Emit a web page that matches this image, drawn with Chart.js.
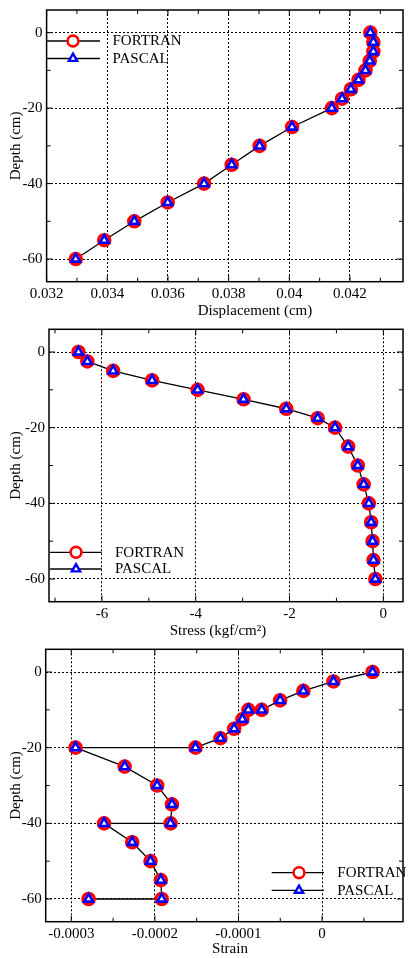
<!DOCTYPE html>
<html>
<head>
<meta charset="utf-8">
<script src="https://cdn.jsdelivr.net/npm/chart.js@4.4.1/dist/chart.umd.min.js"></script>
<style>
  html, body { margin: 0; padding: 0; background: #fff; overflow: hidden; width: 408px; height: 958px; }
  canvas { position: absolute; left: 0; }
</style>
</head>
<body>
<canvas id="c1" width="412" height="320" style="top:0px"></canvas>
<canvas id="c2" width="412" height="320" style="top:320px"></canvas>
<canvas id="c3" width="412" height="318" style="top:640px"></canvas>
<script>
// depth of the nodes (cm)
const depth = [0, -2.5, -5, -7.5, -10, -12.5, -15, -17.5, -20, -25, -30, -35, -40, -45, -50, -55, -60];

const dispFortran = [0.04267, 0.04277, 0.04277, 0.04265, 0.04251, 0.04228, 0.04203, 0.04174, 0.04140,
  0.04009, 0.03902, 0.03810, 0.03719, 0.03599, 0.03489, 0.03390, 0.03296];
const dispPascal = [0.04267, 0.04277, 0.04277, 0.04265, 0.04251, 0.04228, 0.04203, 0.04174, 0.04140,
  0.04009, 0.03902, 0.03810, 0.03719, 0.03599, 0.03489, 0.03390, 0.03296];

const stressFortran = [-6.50, -6.31, -5.76, -4.93, -3.96, -2.98, -2.07, -1.40, -1.03,
  -0.75, -0.545, -0.42, -0.31, -0.26, -0.23, -0.21, -0.17];
const stressPascal = [-6.50, -6.31, -5.76, -4.93, -3.96, -2.98, -2.07, -1.40, -1.03,
  -0.75, -0.545, -0.42, -0.31, -0.26, -0.23, -0.21, -0.17];

// strain is given per element, so layer boundaries appear twice
const strainDepth = [0, -2.5, -5, -7.5, -10, -10, -12.5, -15, -17.5, -20, -20, -25, -30, -35,
  -40, -40, -45, -50, -55, -60, -60];
const strainFortran = [0.0000604, 0.0000136, -0.0000224, -0.0000502, -0.0000722, -0.0000882, -0.0000953,
  -0.0001052, -0.0001216, -0.0001514, -0.0002949, -0.0002361, -0.0001973, -0.0001796,
  -0.0001812, -0.0002608, -0.0002271, -0.0002052, -0.0001929, -0.0001918, -0.0002793];
const strainPascal = [0.0000604, 0.0000136, -0.0000224, -0.0000502, -0.0000722, -0.0000882, -0.0000953,
  -0.0001052, -0.0001216, -0.0001514, -0.0002949, -0.0002361, -0.0001973, -0.0001796,
  -0.0001812, -0.0002608, -0.0002271, -0.0002052, -0.0001929, -0.0001918, -0.0002793];

// axis ticks
const depthTicks = [0, -20, -40, -60];
const depthMinor = [-10, -30, -50];
const dispTicks = [0.032, 0.034, 0.036, 0.038, 0.04, 0.042];
const dispMinor = [0.033, 0.035, 0.037, 0.039, 0.041, 0.043];
const stressTicks = [-6, -4, -2, 0];
const stressMinor = [-7, -5, -3, -1];
const strainTicks = [-0.0003, -0.0002, -0.0001, 0];
const strainMinor = [-0.00025, -0.00015, -0.00005, 0.00005];

const seriesNames = ['FORTRAN', 'PASCAL'];
const FONT = 'Liberation Serif, Times New Roman, serif';

const CIRCLE_R = 5.6, CIRCLE_W = 3.4;
const TRI_R = 5.2, TRI_W = 2.6;

function drawMarker(ctx, style, x, y) {
  ctx.save();
  ctx.fillStyle = '#fff';
  if (style === 'circle') {
    ctx.strokeStyle = '#ff0000';
    ctx.lineWidth = 2.6;
    ctx.beginPath();
    ctx.arc(x, y, 5.4, 0, Math.PI * 2);
  } else {
    const r = 4.8;
    ctx.strokeStyle = '#0000ff';
    ctx.lineWidth = 2.4;
    ctx.beginPath();
    ctx.moveTo(x, y - r);
    ctx.lineTo(x + 0.866 * r, y + 0.5 * r);
    ctx.lineTo(x - 0.866 * r, y + 0.5 * r);
    ctx.closePath();
  }
  ctx.fill();
  ctx.stroke();
  ctx.restore();
}

// frame, inward ticks, x title and the line+marker legend
const decor = {
  id: 'decor',
  afterDraw(chart, args, o) {
    const { ctx, chartArea: a, scales: { x, y } } = chart;
    ctx.save();
    ctx.strokeStyle = '#000';
    ctx.lineWidth = 1;
    const tickX = (vals, len) => vals.forEach(v => {
      const px = x.getPixelForValue(v);
      ctx.beginPath();
      ctx.moveTo(px, a.bottom); ctx.lineTo(px, a.bottom - len);
      ctx.moveTo(px, a.top); ctx.lineTo(px, a.top + len);
      ctx.stroke();
    });
    const tickY = (vals, len) => vals.forEach(v => {
      const py = y.getPixelForValue(v);
      ctx.beginPath();
      ctx.moveTo(a.left, py); ctx.lineTo(a.left + len, py);
      ctx.moveTo(a.right, py); ctx.lineTo(a.right - len, py);
      ctx.stroke();
    });
    tickX(o.xMajor, 6); tickX(o.xMinor, 4);
    tickY(depthTicks, 6); tickY(depthMinor, 4);
    ctx.lineWidth = 1.5;
    ctx.strokeRect(a.left, a.top, a.right - a.left, a.bottom - a.top);

    // x axis title
    ctx.fillStyle = '#000';
    ctx.font = '15px ' + FONT;
    ctx.textAlign = 'center';
    ctx.textBaseline = 'alphabetic';
    ctx.fillText(o.xTitle, o.titleX, o.titleY);

    // legend
    const L = o.legend;
    chart.data.datasets.forEach((ds, i) => {
      const ry = L.y + i * L.dy;
      ctx.strokeStyle = '#000';
      ctx.lineWidth = 1.3;
      ctx.beginPath();
      ctx.moveTo(L.x0, ry); ctx.lineTo(L.x1, ry);
      ctx.stroke();
      drawMarker(ctx, ds.pointStyle, L.mx, ry);
      ctx.fillStyle = '#000';
      ctx.textAlign = 'left';
      ctx.textBaseline = 'middle';
      ctx.fillText(ds.label, L.tx, ry + 0.5);
    });
    ctx.restore();
  }
};

function makeChart(id, p) {
  const pts = (xs, ys) => xs.map((v, i) => ({ x: v, y: ys[i] }));
  const fmt = v => String(+Number(v).toPrecision(6));
  const noPad = s => { s.paddingTop = 0; s.paddingBottom = 0; s.paddingLeft = 0; s.paddingRight = 0; };
  return new Chart(document.getElementById(id), {
    type: 'scatter',
    data: {
      datasets: [
        {
          label: seriesNames[0],
          data: pts(p.fortran, p.depth),
          showLine: true,
          borderColor: '#000',
          borderWidth: 1.3,
          pointStyle: 'circle',
          pointRadius: CIRCLE_R,
          pointBorderWidth: CIRCLE_W,
          pointBorderColor: '#ff0000',
          pointBackgroundColor: '#fff',
          order: 1
        },
        {
          label: seriesNames[1],
          data: pts(p.pascal, p.depth),
          showLine: false,
          pointStyle: 'triangle',
          pointRadius: TRI_R,
          pointBorderWidth: TRI_W,
          pointBorderColor: '#0000ff',
          pointBackgroundColor: '#fff',
          order: 0
        }
      ]
    },
    options: {
      responsive: false,
      animation: false,
      events: [],
      layout: { padding: { top: p.top, left: 0, right: 3, bottom: 0 } },
      plugins: {
        legend: { display: false },
        tooltip: { enabled: false },
        decor: {
          xMajor: p.xTicks, xMinor: p.xMinor,
          xTitle: p.xTitle, titleX: p.titleX, titleY: p.titleY,
          legend: p.legend
        }
      },
      scales: {
        x: {
          type: 'linear',
          min: p.xMin, max: p.xMax,
          afterBuildTicks: s => { s.ticks = p.xTicks.map(v => ({ value: v })); },
          afterFit: s => { s.height = p.xH; noPad(s); },
          grid: { color: '#000', lineWidth: 1, drawTicks: false },
          border: { display: false, dash: [2, 2] },
          ticks: { color: '#000', font: { family: FONT, size: 15 }, padding: 3, maxRotation: 0, callback: fmt }
        },
        y: {
          type: 'linear',
          min: -66, max: 6,
          afterBuildTicks: s => { s.ticks = depthTicks.map(v => ({ value: v })); },
          afterFit: s => { s.width = p.yW; noPad(s); },
          grid: { color: '#000', lineWidth: 1, drawTicks: false },
          border: { display: false, dash: [2, 2] },
          ticks: { color: '#000', font: { family: FONT, size: 15 }, padding: 4, callback: fmt },
          title: { display: true, text: 'Depth (cm)', color: '#000', font: { family: FONT, size: 15 }, padding: { top: 7.5, bottom: 0 } }
        }
      }
    },
    plugins: [decor]
  });
}

makeChart('c1', {
  depth: depth, fortran: dispFortran, pascal: dispPascal,
  xMin: 0.032, xMax: 0.043747, xTicks: dispTicks, xMinor: dispMinor,
  top: 10, xH: 38.3, yW: 46.6,
  xTitle: 'Displacement (cm)', titleX: 255, titleY: 315,
  legend: { x0: 47, x1: 100, mx: 73, tx: 112.5, y: 41, dy: 17.5 }
});

makeChart('c2', {
  depth: depth, fortran: stressFortran, pascal: stressPascal,
  xMin: -7.128, xMax: 0.419, xTicks: stressTicks, xMinor: stressMinor,
  top: 9.3, xH: 38.3, yW: 49,
  xTitle: 'Stress (kgf/cm\u00B2)', titleX: 218, titleY: 315,
  legend: { x0: 50, x1: 101.7, mx: 76, tx: 115, y: 232.3, dy: 16.7 }
});

makeChart('c3', {
  depth: strainDepth, fortran: strainFortran, pascal: strainPascal,
  xMin: -0.0003306, xMax: 0.0000968, xTicks: strainTicks, xMinor: strainMinor,
  top: 9.3, xH: 36.3, yW: 45.7,
  xTitle: 'Strain', titleX: 230, titleY: 313,
  legend: { x0: 271.7, x1: 324, mx: 299, tx: 337.3, y: 232.7, dy: 17.7 }
});
</script>
</body>
</html>
